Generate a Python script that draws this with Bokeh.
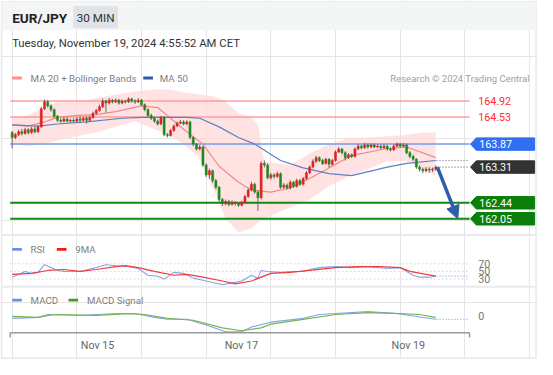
from bokeh.plotting import figure
from bokeh.models import Range1d, Arrow, NormalHead
from bokeh.core.properties import value
from bokeh.embed import file_html
from bokeh.resources import INLINE

# ---------------- data ----------------
closes = [164.03, 164.10, 164.17, 164.13, 164.22, 164.15, 164.24, 164.17, 164.29, 164.73,
          164.90, 164.80, 164.71, 164.55, 164.45, 164.43, 164.48, 164.43, 164.45, 164.43,
          164.48, 164.45, 164.50, 164.45, 164.52, 164.62, 164.69, 164.78, 164.92, 164.87,
          164.94, 164.90, 164.94, 164.87, 164.92, 164.90, 164.97, 164.92, 164.90, 164.94,
          164.83, 164.71, 164.57, 164.50, 164.43, 164.36, 164.52, 164.10, 164.08, 164.20,
          164.31, 164.38, 164.41, 164.36, 164.41, 164.03, 163.87, 163.75, 163.80, 163.36,
          163.12, 163.22, 162.98, 162.82, 162.52, 162.42, 162.47, 162.40, 162.45, 162.42,
          162.38, 162.45, 162.59, 162.75, 162.89, 162.70, 162.56, 163.40, 163.36, 163.05,
          163.12, 163.08, 163.15, 162.82, 162.87, 162.80, 162.94, 162.84, 162.98, 162.89,
          163.03, 163.17, 163.31, 163.45, 163.54, 163.47, 163.40, 163.50, 163.38, 163.47,
          163.68, 163.75, 163.66, 163.54, 163.61, 163.57, 163.75, 163.82, 163.78, 163.85,
          163.80, 163.85, 163.80, 163.82, 163.78, 163.82, 163.75, 163.73, 163.82, 163.87,
          163.82, 163.85, 163.66, 163.57, 163.50, 163.31, 163.26, 163.22, 163.26, 163.24,
          163.26, 163.31]
opens = [164.15] + closes[:-1]
highs = [164.19, 164.14, 164.22, 164.24, 164.27, 164.26, 164.29, 164.30, 164.33, 164.78,
         164.96, 164.94, 164.84, 164.74, 164.58, 164.50, 164.53, 164.52, 164.49, 164.50,
         164.53, 164.55, 164.54, 164.55, 164.56, 164.66, 164.73, 164.83, 164.98, 164.95,
         164.99, 164.97, 164.98, 164.97, 164.96, 164.95, 165.01, 165.00, 164.96, 164.99,
         164.97, 164.86, 164.74, 164.61, 164.54, 164.47, 164.56, 164.55, 164.14, 164.24,
         164.35, 164.42, 164.46, 164.45, 164.45, 164.44, 164.06, 163.90, 163.85, 163.83,
         163.40, 163.27, 163.25, 163.02, 162.85, 162.56, 162.52, 162.51, 162.50, 162.48,
         162.46, 162.49, 162.63, 162.80, 162.95, 162.93, 162.74, 163.45, 163.47, 163.40,
         163.17, 163.16, 163.20, 163.18, 162.92, 162.91, 162.99, 162.97, 163.03, 163.02,
         163.07, 163.21, 163.35, 163.50, 163.59, 163.57, 163.51, 163.54, 163.53, 163.51,
         163.72, 163.80, 163.78, 163.70, 163.65, 163.64, 163.79, 163.88, 163.86, 163.90,
         163.88, 163.89, 163.88, 163.87, 163.86, 163.87, 163.85, 163.79, 163.87, 163.91,
         163.90, 163.89, 163.88, 163.70, 163.61, 163.53, 163.35, 163.30, 163.31, 163.31,
         163.30, 163.35]
lows = [163.76, 163.99, 164.06, 164.08, 164.10, 164.10, 164.12, 164.13, 164.14, 164.26,
        164.70, 164.76, 164.66, 164.51, 164.41, 164.39, 164.40, 164.40, 164.39, 164.40,
        164.40, 164.38, 164.42, 164.37, 164.42, 164.49, 164.59, 164.66, 164.75, 164.64,
        164.84, 164.86, 164.87, 164.83, 164.84, 164.86, 164.87, 164.88, 164.85, 164.87,
        164.80, 164.67, 164.53, 164.46, 164.39, 164.32, 164.33, 164.06, 164.03, 164.05,
        164.17, 164.28, 164.35, 164.33, 164.33, 163.99, 163.82, 163.71, 163.72, 163.31,
        163.07, 163.02, 162.92, 162.77, 162.47, 162.36, 162.38, 162.35, 162.37, 162.37,
        162.34, 162.35, 162.42, 162.56, 162.72, 162.66, 162.24, 162.52, 163.30, 163.01,
        163.00, 163.03, 163.05, 162.78, 162.78, 162.76, 162.77, 162.80, 162.81, 162.85,
        162.86, 163.00, 163.14, 163.28, 163.41, 163.43, 163.36, 163.37, 163.30, 163.35,
        163.44, 163.65, 163.62, 163.47, 163.51, 163.53, 163.54, 163.72, 163.74, 163.75,
        163.76, 163.77, 163.77, 163.77, 163.74, 163.75, 163.71, 163.69, 163.70, 163.79,
        163.78, 163.79, 163.62, 163.53, 163.46, 163.27, 163.20, 163.16, 163.18, 163.17,
        163.19, 163.22]

ma20_idx = [0, 5, 10, 14, 20, 26, 32, 40, 45, 49, 54, 59, 64, 70, 74, 80, 86, 92, 98, 105, 115, 122, 131]
ma20 = [164.34, 164.31, 164.41, 164.52, 164.57, 164.59, 164.66, 164.80, 164.76, 164.50, 164.17, 163.87,
        163.33, 162.94, 162.75, 162.70, 162.80, 163.03, 163.29, 163.59, 163.75, 163.80, 163.54]
ma50_idx = [0, 8, 14, 23, 34, 40, 54, 58, 64, 70, 75, 83, 90, 98, 105, 116, 122, 131]
ma50 = [164.34, 164.31, 164.36, 164.41, 164.50, 164.52, 164.52, 164.50, 164.29, 164.03, 163.87,
        163.47, 163.29, 163.15, 163.10, 163.31, 163.40, 163.47]
bb_idx = [0, 5, 10, 14, 20, 26, 32, 38, 44, 49, 53, 58, 62, 66, 70, 74, 76, 78, 82, 86, 92, 98,
          104, 110, 116, 122, 127, 131]
bb_upper = [164.52, 164.57, 164.76, 164.90, 164.90, 164.99, 165.08, 165.15, 165.20, 165.20, 165.13,
            165.08, 165.04, 164.90, 164.62, 164.52, 164.34, 163.45, 163.40, 163.36, 163.64, 163.87,
            164.01, 164.03, 164.06, 164.10, 164.15, 164.15]
bb_lower = [163.87, 163.82, 163.87, 163.96, 164.06, 164.15, 164.29, 164.43, 164.24, 164.06, 163.87,
            163.54, 162.82, 162.05, 161.72, 161.82, 161.96, 162.05, 162.19, 162.33, 162.52, 162.84,
            163.08, 163.26, 163.45, 163.45, 163.29, 163.08]

rsi_idx = [0, 4, 6, 8, 10, 12, 14, 16, 21, 26, 29, 32, 36, 39, 42, 45, 47, 50, 53, 56, 60, 65, 68,
           71, 74, 76, 77, 79, 83, 86, 90, 92, 95, 100, 105, 110, 116, 120, 122, 124, 126, 129, 131]
rsi = [35, 50, 45, 47.5, 67.5, 60, 52.5, 50, 50, 60, 67.5, 65, 62.5, 57.5, 40, 37.5, 30, 47.5, 45,
       32.5, 25, 15, 20, 25, 40, 32.5, 52.5, 50, 47.5, 50, 50, 55, 60, 62.5, 60, 62.5, 57.5, 60, 50,
       40, 35, 35, 37.5]
rsi_ma_idx = [0, 6, 11, 16, 21, 26, 32, 35, 39, 44, 50, 54, 59, 65, 69, 74, 80, 86, 92, 100, 107,
              114, 120, 123, 128, 131]
rsi_ma = [42.5, 45, 52.5, 55, 50, 55, 62.5, 65, 60, 50, 40, 42.5, 35, 25, 17.5, 25, 45, 47.5, 52.5,
          60, 62.5, 62.5, 60, 50, 42.5, 37.5]
rsi_levels = [70, 50, 30]

macd_idx = [0, 8, 11, 21, 26, 33, 38, 44, 48, 54, 60, 66, 71, 74, 80, 90, 95, 100, 110, 119, 125, 131]
macd = [-0.04, -0.02, 0.04, 0.02, 0.04, 0.06, 0.06, -0.02, -0.06, -0.06, -0.18, -0.32, -0.32, -0.22,
        -0.12, -0.04, 0.04, 0.06, 0.10, 0.06, 0.00, -0.06]
sig_idx = [0, 8, 13, 26, 36, 41, 48, 56, 65, 71, 77, 80, 90, 100, 110, 120, 126, 131]
signal = [0.00, -0.02, 0.04, 0.02, 0.06, 0.04, -0.04, -0.08, -0.24, -0.30, -0.24, -0.16, -0.06, 0.04,
          0.08, 0.06, 0.04, -0.02]

resist_levels = [164.92, 164.53]
pivot_level = 163.87
support_levels = [162.44, 162.05]
target_level = 162.05

tick_idx = [26.4, 70.9, 122.5]
tick_labels = ["Nov 15", "Nov 17", "Nov 19"]

# ---------------- layout: reference pixel space 553x375 drawn into 537x359 ----------------
W, H = 537, 359
RW, RH = 553.0, 375.0
S = W / RW
X0, DX = 12.0, 3.33
P_REF, Y_REF, PPY = 164.92, 105.0, 42.86


def price_at(y):
    return P_REF - (y - Y_REF) / PPY


def rsi_at(y):
    return 50 + (283 - y) * 2.5


def macd_at(y):
    return (330 - y) * 0.02


def fs(size):
    return "%.1fpx" % (size * S)


FONT = value("Roboto")

p = figure(width=W, height=H, title=None,
           x_range=Range1d((0 - X0) / DX, (RW - X0) / DX),
           y_range=Range1d(price_at(RH), price_at(0)),
           x_axis_location=None, y_axis_location=None,
           output_backend="svg", toolbar_location=None, min_border=0)
p.outline_line_color = None
p.background_fill_color = "white"
p.border_fill_color = "white"
p.extra_x_ranges = {"px": Range1d(0, RW)}
p.extra_y_ranges = {"py": Range1d(RH, 0),
                    "rsi": Range1d(rsi_at(RH), rsi_at(0)),
                    "macd": Range1d(macd_at(RH), macd_at(0))}


def txt(x, y, s, size=12, color="#333333", align="left", bold=False, xr="px", yr="py"):
    p.text(x=[x], y=[y], text=[s], x_range_name=xr, y_range_name=yr,
           text_font=FONT, text_font_size=fs(size), text_color=color, text_align=align,
           text_baseline="middle", text_font_style="bold" if bold else "normal")


def box(l, r, t, b, color):
    p.quad(left=[l], right=[r], top=[t], bottom=[b], x_range_name="px", y_range_name="py",
           fill_color=color, line_color=None)


# outer frame + header
p.quad(left=[1], right=[RW - 1.5], top=[1], bottom=[RH - 1.5], x_range_name="px", y_range_name="py",
       fill_color=None, line_color="#e6e9ec", line_width=1.5)
box(1, RW - 1.5, 1, 31, "#f4f5f6")
box(75, 121, 6, 29, "#dfe2e6")
txt(12, 18, "EUR/JPY", size=14, color="#222222", bold=True)
txt(98, 18, "30 MIN", size=12, color="#333333", align="center")
txt(12, 45, "Tuesday, November 19, 2024 4:55:52 AM CET", size=11.6, color="#333333")

# legend main
box(12, 22, 79.5, 82.5, "#ff8c8c")
txt(31, 81, "MA 20 + Bollinger Bands", size=10, color="#808080")
box(147, 157, 79.5, 82.5, "#2d5aa8")
txt(164, 81, "MA 50", size=10, color="#808080")
txt(545, 81, "Research \u00a9 2024 Trading Central", size=9.8, color="#a0a0a0", align="right")

# separators
p.segment(x0=[1, 1], x1=[RW - 1.5, RW - 1.5], y0=[245, 299], y1=[245, 299],
          x_range_name="px", y_range_name="py", line_color="#e7ebee", line_width=2)

# bollinger band
p.varea(x=bb_idx, y1=bb_lower, y2=bb_upper, fill_color="#ffdada", fill_alpha=0.75)

# level lines
p.segment(x0=[10, 10], x1=[483, 483], y0=resist_levels, y1=resist_levels, x_range_name="px",
          line_color="#ff9c9c", line_width=1.5)
p.segment(x0=[10], x1=[483], y0=[pivot_level], y1=[pivot_level], x_range_name="px",
          line_color="#6f9bf0", line_width=1.5)
p.segment(x0=[10, 10], x1=[483, 483], y0=support_levels, y1=support_levels, x_range_name="px",
          line_color="#108a10", line_width=2)

# moving averages
p.line(ma20_idx, ma20, line_color="#f08a8a", line_width=1.2)
p.line(ma50_idx, ma50, line_color="#5d80c2", line_width=1.2)

# candles
idx = list(range(len(closes)))
up = [c >= o for o, c in zip(opens, closes)]
ccol = ["#e02020" if u else "#1d8a1d" for u in up]
p.segment(x0=idx, x1=idx, y0=lows, y1=highs, line_color="#666666", line_width=1)
p.vbar(x=idx, width=0.64, top=[max(o, c) for o, c in zip(opens, closes)],
       bottom=[min(o, c) for o, c in zip(opens, closes)],
       fill_color=ccol, line_color=ccol, line_width=0.5)

# dotted extensions
p.segment(x0=[449, 449], x1=[483, 483], y0=[ma50[-1], closes[-1]], y1=[ma50[-1], closes[-1]],
          x_range_name="px", line_color="#667085", line_width=1.2, line_dash="1 2")

# forecast arrow
AC = "#2e5ea8"
p.add_layout(Arrow(end=NormalHead(size=13, fill_color=AC, line_color=AC),
                   x_start=idx[-1] + 0.5, y_start=closes[-1], x_end=idx[-1] + 6.8, y_end=target_level,
                   line_color=AC, line_width=3.5))

# right price labels
for lv in resist_levels:
    p.text(x=[492], y=[lv], text=["%.2f" % lv], x_range_name="px", text_font=FONT,
           text_font_size=fs(11), text_color="#ff2d2d", text_baseline="middle")
HH = 6.5 / PPY
tags = [(pivot_level, "#2f6ff2"), (closes[-1], "#333333"),
        (support_levels[0], "#0a800a"), (support_levels[1], "#0a800a")]
for lv, col in tags:
    p.patches(xs=[[484, 490, 550, 550, 490]], ys=[[lv, lv + HH, lv + HH, lv - HH, lv - HH]],
              x_range_name="px", fill_color=col, line_color=col)
    p.text(x=[493], y=[lv], text=["%.2f" % lv], x_range_name="px", text_font=FONT,
           text_font_size=fs(11), text_color="white", text_baseline="middle")

# RSI panel
box(12, 22, 258.5, 261.5, "#6b8fe8")
txt(31, 260, "RSI", size=10, color="#808080")
box(58, 68, 258.5, 261.5, "#ee1c1c")
txt(77, 260, "9MA", size=10, color="#808080")
p.segment(x0=[10] * 3, x1=[483] * 3, y0=rsi_levels, y1=rsi_levels, x_range_name="px",
          y_range_name="rsi", line_color="#bdbdbd", line_width=1, line_dash="1 3")
p.line(rsi_idx, rsi, y_range_name="rsi", line_color="#86a3ea", line_width=1.1)
p.line(rsi_ma_idx, rsi_ma, y_range_name="rsi", line_color="#f03c3c", line_width=1.2)
p.segment(x0=[449], x1=[483], y0=[rsi[-1]], y1=[rsi[-1]], x_range_name="px", y_range_name="rsi",
          line_color="#86a3ea", line_width=1.2, line_dash="1 2")
for lv in rsi_levels:
    p.text(x=[492], y=[lv], text=[str(lv)], x_range_name="px", y_range_name="rsi", text_font=FONT,
           text_font_size=fs(11), text_color="#777777", text_baseline="middle")

# MACD panel
box(12, 22, 311.5, 314.5, "#6b8fe8")
txt(31, 313, "MACD", size=10, color="#808080")
box(70, 80, 311.5, 314.5, "#4a9a1a")
txt(89, 313, "MACD Signal", size=10, color="#808080")
p.line(macd_idx, macd, y_range_name="macd", line_color="#86a3ea", line_width=1.1)
p.line(sig_idx, signal, y_range_name="macd", line_color="#76b452", line_width=1.2)
p.segment(x0=[449], x1=[483], y0=[macd[-1]], y1=[macd[-1]], x_range_name="px", y_range_name="macd",
          line_color="#86a3ea", line_width=1.2, line_dash="1 2")
p.text(x=[492], y=[0], text=["0"], x_range_name="px", y_range_name="macd", text_font=FONT,
       text_font_size=fs(11), text_color="#777777", text_baseline="middle")

# x axis
p.segment(x0=[10, 10, 483], x1=[483, 10, 483], y0=[347, 347, 347], y1=[347, 352, 352],
          x_range_name="px", y_range_name="py", line_color="#9a9a9a", line_width=1.5)
p.text(x=tick_idx, y=[360] * len(tick_idx), text=tick_labels, y_range_name="py", text_font=FONT,
       text_font_size=fs(11), text_color="#666666", text_align="center", text_baseline="middle")

open("out.html", "w", encoding="utf-8").write(file_html(p, INLINE))
